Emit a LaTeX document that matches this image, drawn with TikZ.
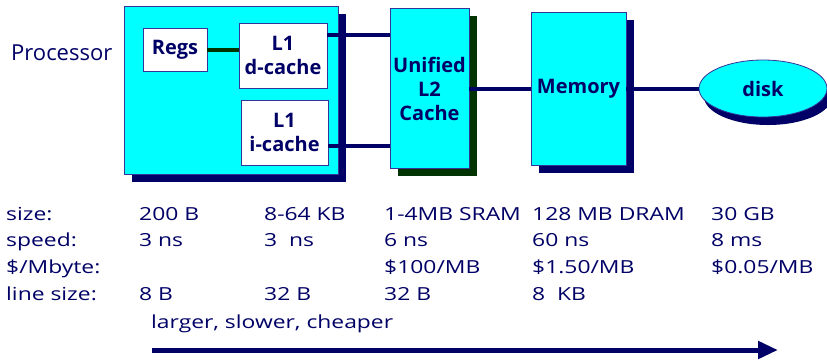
\documentclass[tikz,border=0pt]{standalone}
\usepackage{fontspec}
\setmainfont{Open Sans}
\newfontfamily\tabfont[FakeStretch=1.27]{Open Sans}
\usetikzlibrary{shadows,arrows.meta,calc,shapes.geometric}
\definecolor{navy}{HTML}{000066}
\definecolor{dgreen}{HTML}{003300}
\definecolor{aqua}{HTML}{00FFFF}
\definecolor{edge}{HTML}{333399}
\tikzset{
  box/.style={draw=edge, line width=0.8pt, fill=aqua, inner sep=0pt, text=navy,
     font=\fontsize{20}{24}\selectfont\bfseries, align=center},
  wbox/.style={box, fill=white},
  nshadow/.style={drop shadow={shadow xshift=7.5pt, shadow yshift=-7.5pt, fill=navy, opacity=1}},
  gshadow/.style={drop shadow={shadow xshift=7.5pt, shadow yshift=-7.5pt, fill=dgreen, opacity=1}},
  conn/.style={line width=4pt, navy},
  gconn/.style={line width=4pt, dgreen},
  tab/.style={anchor=base west, inner sep=0pt, text=navy, font=\tabfont\fontsize{18}{20}\selectfont},
}
\begin{document}
\begin{tikzpicture}[x=1pt, y=-1pt]
\useasboundingbox[fill=white] (0,0) rectangle (827,360);
% boxes
\node[box, nshadow, minimum width=214pt, minimum height=168pt] (proc) at (231,90) {};
\node[wbox, minimum width=64pt, minimum height=43pt] (regs) at (175,49.5) {Regs};
\node[wbox, minimum width=88pt, minimum height=65pt] (l1d) at (283,55.5) {L1\\d-cache};
\node[wbox, minimum width=87pt, minimum height=65pt] (l1i) at (284.5,132.5) {L1\\i-cache};
\node[box, gshadow, minimum width=79pt, minimum height=160pt] (l2) at (429.5,88.5) {Unified\\L2\\Cache};
\node[box, nshadow, minimum width=95pt, minimum height=153pt] (mem) at (578.5,88.5) {Memory};
\node[box, ellipse, drop shadow={shadow xshift=5pt, shadow yshift=-8pt, fill=navy, opacity=1},
      minimum width=128pt, minimum height=57pt] (disk) at (763,88.5) {disk};
\node[anchor=west, inner sep=0pt, text=navy, font=\fontsize{22}{24}\selectfont] (ptext) at (11,53) {Processor};
% connectors
\draw[gconn] (regs.east) -- (regs.east -| l1d.west);
\coordinate (dl) at ($(l1d.east)+(0,-20.5)$);
\coordinate (il) at ($(l1i.east)+(0,13.5)$);
\draw[conn] (dl) -- (dl -| l2.west);
\draw[conn] (il) -- (il -| l2.west);
\draw[conn] (l2.east) -- (l2.east -| mem.west);
\draw[conn] (mem.east) -- (mem.east -| disk.west);
% table
\node[tab] (r1) at (6,220) {size:};
\node[tab] (r2) at (6,246) {speed:};
\node[tab] (r3) at (6,273) {\$/Mbyte:};
\node[tab] (r4) at (6,300) {line size:};
\node[tab] (a1) at (139,220) {200 B};
\node[tab] (a2) at (139,246) {3 ns};
\node[tab] (a4) at (139,300) {8 B};
\node[tab] (b1) at (264,220) {8-64 KB};
\node[tab] (b2) at (264,246) {3~~ns};
\node[tab] (b4) at (264,300) {32 B};
\node[tab] (c1) at (384,220) {1-4MB SRAM};
\node[tab] (c2) at (384,246) {6 ns};
\node[tab] (c3) at (384,273) {\$100/MB};
\node[tab] (c4) at (384,300) {32 B};
\node[tab] (d1) at (532,220) {128 MB DRAM};
\node[tab] (d2) at (532,246) {60 ns};
\node[tab] (d3) at (532,273) {\$1.50/MB};
\node[tab] (d4) at (532,300) {8~~KB};
\node[tab] (e1) at (711,220) {30 GB};
\node[tab] (e2) at (711,246) {8 ms};
\node[tab] (e3) at (711,273) {\$0.05/MB};
\node[tab] (lsc) at (151,328) {larger, slower, cheaper};
\coordinate (as) at (152,350);
\coordinate (ae) at (778,350);
\draw[line width=5pt, navy, -{Triangle[length=20pt,width=17pt]}] (as) -- (ae);
\end{tikzpicture}
\end{document}
